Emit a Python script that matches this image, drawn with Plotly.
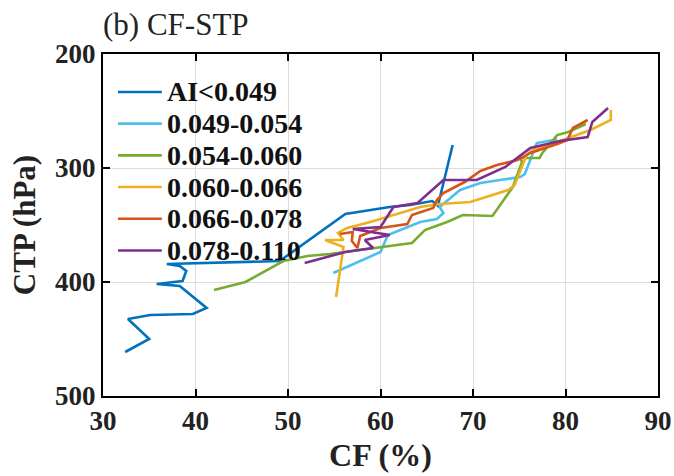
import plotly.graph_objects as go

names = ["AI<0.049", "0.049-0.054", "0.054-0.060", "0.060-0.066", "0.066-0.078", "0.078-0.110"]
colors = ["#0072BD", "#4DBEEE", "#77AC30", "#EDB120", "#D95319", "#7E2F8E"]

cf_1 = [32.4, 35.0, 32.7, 35.1, 39.7, 41.2, 38.3, 35.8, 38.6, 39.0, 38.3, 36.9, 49.1, 56.2, 61.0, 63.2, 65.6, 66.2, 67.8]
ctp_1 = [461.4, 450.0, 432.5, 429.0, 428.1, 422.8, 403.5, 401.8, 399.1, 390.4, 386.0, 384.2, 381.6, 340.4, 334.2, 332.5, 329.0, 333.3, 279.8]

cf_2 = [54.9, 60.0, 60.8, 64.3, 66.1, 66.8, 66.4, 68.6, 70.8, 75.1, 75.6, 76.9, 78.7, 79.1]
ctp_2 = [392.1, 373.7, 358.8, 347.4, 344.7, 339.5, 334.2, 319.3, 313.2, 307.9, 305.3, 278.1, 275.4, 274.6]

cf_3 = [42.0, 45.4, 49.5, 52.1, 54.5, 63.4, 64.8, 67.2, 68.9, 72.1, 74.3, 75.3, 75.1, 77.2, 77.5, 79.1, 80.3, 82.2]
ctp_3 = [407.0, 400.0, 381.6, 377.2, 375.4, 365.8, 354.4, 347.4, 341.2, 342.1, 316.7, 294.7, 291.2, 291.2, 286.8, 271.1, 268.4, 261.4]

cf_4 = [55.2, 56.0, 54.0, 56.0, 55.4, 56.4, 58.9, 62.1, 64.3, 66.4, 69.7, 73.8, 74.5, 75.8, 76.3, 79.4, 82.7, 84.9, 84.9]
ctp_4 = [413.2, 369.3, 363.2, 363.2, 357.0, 352.6, 347.4, 339.5, 334.2, 331.6, 329.8, 319.3, 314.9, 288.6, 285.1, 276.3, 266.7, 257.9, 249.1]

cf_5 = [55.6, 57.0, 56.9, 57.5, 57.8, 60.0, 62.9, 63.4, 65.7, 66.1, 66.8, 69.1, 70.8, 72.6, 74.8, 76.2, 79.4, 80.2, 80.8, 82.4]
ctp_5 = [357.9, 356.1, 364.0, 370.2, 359.6, 352.6, 349.1, 341.2, 335.1, 328.1, 321.9, 312.3, 302.6, 297.4, 293.0, 286.8, 278.1, 275.4, 264.9, 257.9]

cf_6 = [51.8, 56.2, 59.2, 58.3, 61.0, 57.0, 60.0, 61.4, 64.0, 66.8, 70.4, 73.5, 76.2, 79.4, 82.4, 82.9, 84.6]
ctp_6 = [383.3, 373.7, 370.2, 363.2, 358.8, 353.5, 351.8, 334.2, 330.7, 310.5, 310.5, 299.1, 282.5, 276.3, 272.8, 259.6, 247.4]

series_x = [cf_1, cf_2, cf_3, cf_4, cf_5, cf_6]
series_y = [ctp_1, ctp_2, ctp_3, ctp_4, ctp_5, ctp_6]

x_ticks = [30, 40, 50, 60, 70, 80, 90]
y_ticks = [200, 300, 400, 500]

FONT = "Liberation Serif, Times New Roman, serif"

fig = go.Figure()
for n, c, xs, ys in zip(names, colors, series_x, series_y):
    fig.add_trace(go.Scatter(x=xs, y=ys, mode="lines", name=n,
                             line=dict(color=c, width=2.6), showlegend=False))

axis_common = dict(
    showline=True, linecolor="black", linewidth=2, mirror="ticks",
    ticks="inside", ticklen=7, tickwidth=1.5, tickcolor="black",
    showgrid=True, gridcolor="#dcdcdc", gridwidth=1.2, zeroline=False,
    automargin=False,
    tickfont=dict(family=FONT, size=27, color="#222", weight="bold"),
)

# manual legend (paper coordinates of the plot area)
leg_top = 0.889       # first entry centre
leg_step = 0.0927     # spacing between entries
shapes = []
annotations = []
for i, (n, c) in enumerate(zip(names, colors)):
    yy = leg_top - i * leg_step
    shapes.append(dict(type="line", xref="paper", yref="paper",
                       x0=0.027, x1=0.106, y0=yy, y1=yy,
                       line=dict(color=c, width=2.6)))
    annotations.append(dict(text=n, xref="paper", yref="paper",
                            x=0.112, y=yy, xanchor="left", yanchor="middle",
                            showarrow=False,
                            font=dict(family=FONT, size=28, color="#111", weight="bold")))

annotations.append(dict(text="(b) CF-STP", xref="paper", yref="paper",
                        x=-0.003, y=1.0, xanchor="left", yanchor="bottom", yshift=10,
                        showarrow=False,
                        font=dict(family=FONT, size=31, color="#222")))

fig.update_layout(
    width=674, height=476,
    margin=dict(l=103, r=16, t=54, b=80),
    paper_bgcolor="white", plot_bgcolor="white",
    xaxis=dict(range=[30, 90], tickvals=x_ticks,
               title=dict(text="CF (%)", standoff=8,
                          font=dict(family=FONT, size=32, color="#222", weight="bold")),
               **axis_common),
    yaxis=dict(range=[500, 200], tickvals=y_ticks,
               title=dict(text="CTP (hPa)", standoff=10,
                          font=dict(family=FONT, size=31, color="#222", weight="bold")),
               **axis_common),
    shapes=shapes,
    annotations=annotations,
    showlegend=False,
)

fig.write_html("out.html")
